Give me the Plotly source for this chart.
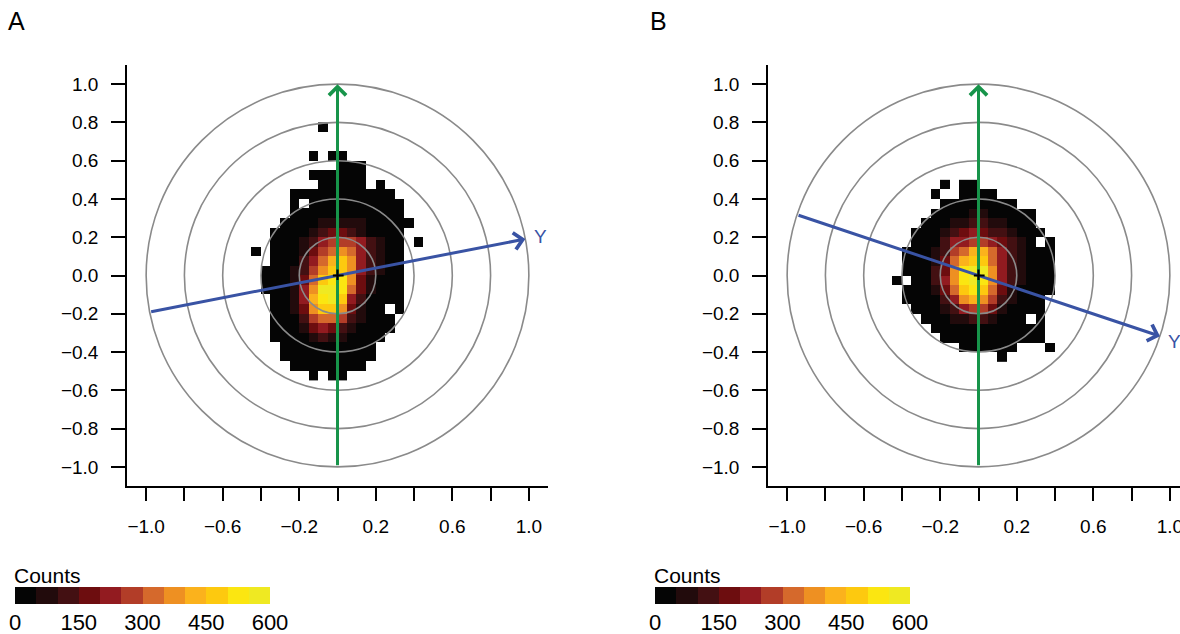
import numpy as np
import plotly.graph_objects as go

# ---------------------------------------------------------------- data
BIN = 0.05            # histogram bin width (both directions)
X_LEFT = -0.50        # left edge of the first histogram column
LEVEL_STEP = 50       # counts per colour class
COUNT_MAX = 600

# 2-D histogram of orientations, one string per row of 0.05-wide bins,
# from the top row downward.  '.' = empty bin, '0'-'9','a','b' = colour
# class of the bin (count // 50).
ROWS_A_TOP = 0.80
ROWS_A = [
    "........0...........",
    "....................",
    "....................",
    ".......0.00.........",
    "..........000.......",
    ".......000000.......",
    "........00000.0.....",
    ".....00000000000....",
    ".....0.0000000000...",
    ".....000000000000...",
    "....00001111100000..",
    "...00001233210000...",
    "...00012455542100.0.",
    ".0.00013567642100...",
    "...00024689742100...",
    "..000125799742100...",
    "..0001369aa731000...",
    "..000147bba631000...",
    "...00148ab9420000...",
    "...001379973100.0...",
    "...0002566521000....",
    "...0001343210000....",
    "...000012110000.....",
    "....0000000000......",
    "....0000000000......",
    ".....00000000.......",
    ".......0.00.........",
]

ROWS_B_TOP = 0.50
ROWS_B = [
    "......0.00..........",
    ".....0..0000........",
    "......00000000......",
    ".....00001100000....",
    "....000112211000....",
    "...00012343221000...",
    "...0002445543210.0..",
    "..0001256886421000..",
    "..0001368996421000..",
    "..000237abb7421000..",
    ".0.00247aba7421000..",
    "..0001369a96310000..",
    "..000024787521000...",
    "...00012455310000...",
    "....00011221000.0...",
    ".....000000000000...",
    "......00000000000...",
    "........000000...0..",
    "............0.......",
]

Y_AXIS_ANGLE_DEG = [11.0, -18.5]          # direction of the Y axis arrow, panels A and B
RING_RADII = [0.2, 0.4, 0.6, 0.8, 1.0]
AXIS_TICKS = [-1.0, -0.8, -0.6, -0.4, -0.2, 0.0, 0.2, 0.4, 0.6, 0.8, 1.0]
LEGEND_TICKS = [0, 150, 300, 450, 600]
PANEL_LETTERS = ["A", "B"]

COLOURS = ["#050505", "#220b0c", "#431012", "#6d0d0f", "#921b20", "#b23d28",
           "#d5692c", "#ee9022", "#fbb21c", "#fdc90f", "#fbe611", "#efe922"]

# ---------------------------------------------------------------- styles
FONT = "Liberation Sans, Arial, Helvetica, sans-serif"
GREEN = "#17944a"
BLUE = "#3953a4"
RING = "#8a8a8a"
W, H = 1180, 634


def grid(rows, top):
    """Turn the row strings into bin centres and a count matrix (NaN = empty)."""
    ncol = len(rows[0])
    xs = X_LEFT + BIN * (np.arange(ncol) + 0.5)
    ys = top - BIN * (np.arange(len(rows)) + 0.5)
    z = np.full((len(rows), ncol), np.nan)
    for i, row in enumerate(rows):
        for j, ch in enumerate(row.ljust(ncol, ".")[:ncol]):
            if ch != ".":
                z[i, j] = int(ch, 16) * LEVEL_STEP + LEVEL_STEP / 2
    # plotly wants increasing y
    return xs, ys[::-1], z[::-1]


n = len(COLOURS)
colorscale = []
for i, c in enumerate(COLOURS):
    colorscale += [[i / n, c], [(i + 1) / n, c]]

fig = go.Figure()

panels = [("x", "y", ROWS_A, ROWS_A_TOP), ("x2", "y2", ROWS_B, ROWS_B_TOP)]
for (xa, ya, rows, top) in panels:
    xs, ys, z = grid(rows, top)
    fig.add_trace(go.Heatmap(x=xs, y=ys, z=z, xaxis=xa, yaxis=ya,
                             colorscale=colorscale, zmin=0, zmax=COUNT_MAX,
                             showscale=False, hoverinfo="skip"))

# colour key strips
key_centres = [LEVEL_STEP * (i + 0.5) for i in range(n)]
for xa, ya in [("x3", "y3"), ("x4", "y4")]:
    fig.add_trace(go.Heatmap(x=key_centres, y=[0], z=[key_centres], xaxis=xa, yaxis=ya,
                             colorscale=colorscale, zmin=0, zmax=COUNT_MAX,
                             showscale=False, hoverinfo="skip"))


def px_x(p):
    return p / W


def px_y(p):
    return 1 - p / H


tick_text_x = [("" if k % 2 else f"{v:.1f}".replace("-", "\u2212"))
               for k, v in enumerate(AXIS_TICKS)]
tick_text_y = [f"{v:.1f}".replace("-", "\u2212") for v in AXIS_TICKS]

common = dict(showgrid=False, zeroline=False, showline=True, linecolor="black",
              linewidth=1.6, ticks="outside", tickwidth=1.6, tickcolor="black",
              tickvals=AXIS_TICKS, fixedrange=True, automargin=False,
              ticklabeloverflow="allow",
              tickfont=dict(family=FONT, size=19, color="black"))

ydom = [px_y(486), px_y(65)]
span = 2.2 / (548 - 127)  # data units per pixel
fig.update_layout(
    xaxis=dict(common, domain=[px_x(127), px_x(548)], range=[-1.1, 1.1], anchor="y",
               ticktext=tick_text_x, ticklen=13, ticklabelstandoff=9),
    yaxis=dict(common, domain=ydom, range=[-1.1, 1.1], anchor="x",
               ticktext=tick_text_y, ticklen=14, ticklabelstandoff=9),
    xaxis2=dict(common, domain=[px_x(768), 1.0], range=[-1.1, -1.1 + span * (W - 768)],
                anchor="y2", ticktext=tick_text_x, ticklen=13, ticklabelstandoff=9),
    yaxis2=dict(common, domain=ydom, range=[-1.1, 1.1], anchor="x2",
                ticktext=tick_text_y, ticklen=14, ticklabelstandoff=9),
)

key_common = dict(range=[0, COUNT_MAX], showgrid=False, zeroline=False, showline=False,
                  ticks="", tickvals=LEGEND_TICKS, fixedrange=True, automargin=False,
                  ticklabeloverflow="allow",
                  tickfont=dict(family=FONT, size=22, color="black"), ticklabelstandoff=3)
key_y = dict(domain=[px_y(604), px_y(587)], range=[-0.5, 0.5], visible=False,
             fixedrange=True, automargin=False)
fig.update_layout(
    xaxis3=dict(key_common, domain=[px_x(15), px_x(270)], anchor="y3"),
    yaxis3=dict(key_y, anchor="x3"),
    xaxis4=dict(key_common, domain=[px_x(655), px_x(910)], anchor="y4"),
    yaxis4=dict(key_y, anchor="x4"),
)

shapes = []
annotations = []
for p, (xa, ya) in enumerate([("x", "y"), ("x2", "y2")]):
    for r in RING_RADII:
        shapes.append(dict(type="circle", xref=xa, yref=ya, x0=-r, x1=r, y0=-r, y1=r,
                           line=dict(color=RING, width=1.6), layer="above"))
    # B axis (vertical) arrow
    annotations.append(dict(xref=xa, yref=ya, axref=xa, ayref=ya, x=0, y=1, ax=0, ay=-1,
                            text="", showarrow=True, arrowhead=4, arrowsize=1.1,
                            arrowwidth=3, arrowcolor=GREEN))
    annotations.append(dict(xref=xa, yref=ya, x=0, y=1.125, text="B", showarrow=False,
                            font=dict(family=FONT, size=19, color=GREEN)))
    # Y axis arrow
    th = np.deg2rad(Y_AXIS_ANGLE_DEG[p])
    ux, uy = float(np.cos(th)), float(np.sin(th))
    annotations.append(dict(xref=xa, yref=ya, axref=xa, ayref=ya, x=ux, y=uy, ax=-ux, ay=-uy,
                            text="", showarrow=True, arrowhead=4, arrowsize=1.1,
                            arrowwidth=3, arrowcolor=BLUE))
    annotations.append(dict(xref=xa, yref=ya, x=1.08 * ux, y=1.08 * uy, text="Y",
                            showarrow=False, font=dict(family=FONT, size=19, color=BLUE)))
    # centre cross
    c = 0.032
    for (x0, y0, x1, y1) in [(-c, 0, c, 0), (0, -c, 0, c)]:
        annotations.append(dict(xref=xa, yref=ya, axref=xa, ayref=ya, x=x1, y=y1, ax=x0, ay=y0,
                                text="", showarrow=True, arrowhead=0, arrowwidth=2.2,
                                arrowcolor="black"))

# panel letters and key titles
for letter, xl, xk in zip(PANEL_LETTERS, [6, 648], [12, 652]):
    annotations.append(dict(xref="paper", yref="paper", x=px_x(xl), y=px_y(21),
                            xanchor="left", yanchor="middle", text=letter, showarrow=False,
                            font=dict(family=FONT, size=25, color="black")))
    annotations.append(dict(xref="paper", yref="paper", x=px_x(xk), y=px_y(575),
                            xanchor="left", yanchor="middle", text="Counts", showarrow=False,
                            font=dict(family=FONT, size=21, color="black")))

fig.update_layout(template="none", width=W, height=H, margin=dict(l=0, r=0, t=0, b=0),
                  paper_bgcolor="white", plot_bgcolor="white", showlegend=False,
                  shapes=shapes, annotations=annotations)

fig.write_html("out.html", config={"displayModeBar": False})
